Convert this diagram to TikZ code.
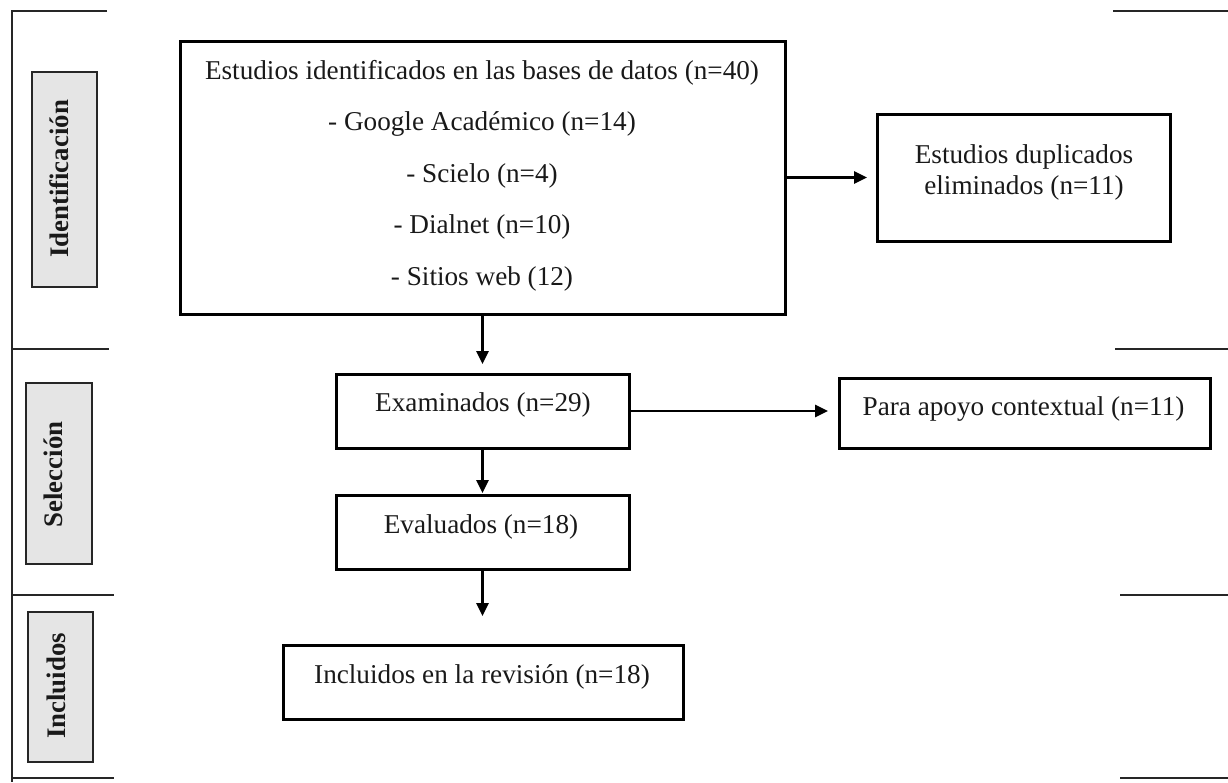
\documentclass[tikz,border=0pt]{standalone}
\usepackage{fontspec}
\setmainfont{Liberation Serif}
\usetikzlibrary{arrows.meta}
\begin{document}
\begin{tikzpicture}[x=1pt,y=-1pt,
  box/.style={draw=black, line width=3pt, rectangle, inner sep=0pt, outer sep=0pt},
  lab/.style={draw=black!85, line width=1.3pt, fill=black!10, rectangle, inner sep=0pt, outer sep=0pt},
  txt/.style={font=\fontsize{27.2}{32}\selectfont, inner sep=0pt, anchor=base, text=black!90},
  ltxt/.style={font=\bfseries\fontsize{26.8}{30}\selectfont, inner sep=0pt, rotate=90, text=black!90},
  frame/.style={line width=2pt, draw=black!85},
  arr/.style={line width=2.6pt, -{Triangle[length=13pt,width=12pt]}}
]
\useasboundingbox (0,0) rectangle (1228,782);

% frame lines
\draw[frame] (107,11) -- (12,11) -- (12,782);
\draw[frame] (12,349) -- (109,349);
\draw[frame] (12,595) -- (114,595);
\draw[frame] (12,778) -- (114,778);
\draw[frame] (1113,11) -- (1228,11);
\draw[frame] (1115,349) -- (1228,349);
\draw[frame] (1120,595) -- (1228,595);
\draw[frame] (1120,778) -- (1228,778);

% phase labels
\node[lab, minimum width=65, minimum height=215] (lid) at (64.5,179.5) {};
\node[ltxt] (tid) at (59,179) {Identificación};
\node[lab, minimum width=66, minimum height=181] (lsel) at (59,473.5) {};
\node[ltxt] (tsel) at (53,474.5) {Selección};
\node[lab, minimum width=65, minimum height=150] (linc) at (60.5,687) {};
\node[ltxt] (tinc) at (56,686) {Incluidos};

% boxes
\node[box, minimum width=605, minimum height=273] (main) at (482.5,177.5) {};
\node[box, minimum width=293, minimum height=127] (dup) at (1023.5,177.5) {};
\node[box, minimum width=293, minimum height=74] (exam) at (482.5,411) {};
\node[box, minimum width=371, minimum height=70] (para) at (1024.5,413) {};
\node[box, minimum width=293, minimum height=74] (eval) at (482.5,532) {};
\node[box, minimum width=400, minimum height=74] (incl) at (483,682) {};

% texts
\node[txt] (m1) at (482,79) {Estudios identificados en las bases de datos (n=40)};
\node[txt] (m2) at (482,130.5) {- Google Académico (n=14)};
\node[txt] (m3) at (482,182) {- Scielo (n=4)};
\node[txt] (m4) at (482,233.5) {- Dialnet (n=10)};
\node[txt] (m5) at (482,285) {- Sitios web (12)};
\node[txt] (d1) at (1024,163) {Estudios duplicados};
\node[txt] (d2) at (1024,194) {eliminados (n=11)};
\node[txt] (te) at (483,411) {Examinados (n=29)};
\node[txt] (tp) at (1023.5,415) {Para apoyo contextual (n=11)};
\node[txt] (tv) at (481,533) {Evaluados (n=18)};
\node[txt] (ti) at (482,683) {Incluidos en la revisión (n=18)};

% connectors
\coordinate (e3) at (483,616);
\draw[arr, shorten >=10pt] (main.east) -- (dup.west);
\draw[arr, shorten >=10pt] (main.south) -- (exam.north);
\draw[arr, shorten >=11pt] (exam.east) -- (exam.east -| para.west);
\draw[arr, shorten >=2pt] (exam.south) -- (eval.north);
\draw[arr] (eval.south) -- (eval.south |- e3);
\end{tikzpicture}
\end{document}
